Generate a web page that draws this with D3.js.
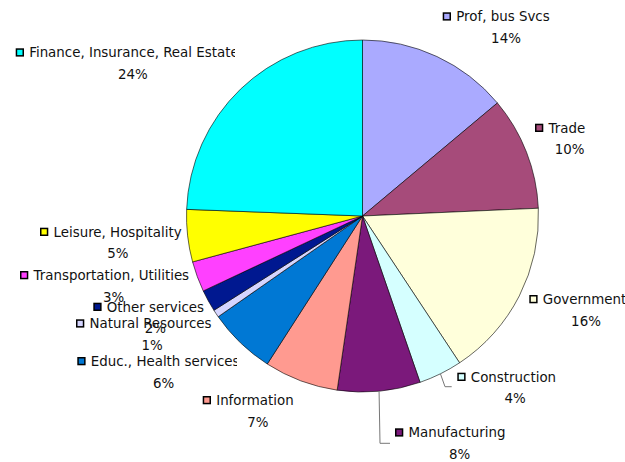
<!DOCTYPE html>
<html>
<head>
<meta charset="utf-8">
<script src="https://cdn.jsdelivr.net/npm/d3@7"></script>
<style>
  body { margin: 0; background: #fff; }
  svg { display: block; }
  text { font-family: "DejaVu Sans", sans-serif; font-size: 13.4px; fill: #111; }
</style>
</head>
<body>
<svg width="625" height="462"></svg>
<script>
// sectors, clockwise from 12 o'clock
const sectors = [
  "Prof, bus Svcs", "Trade", "Government", "Construction", "Manufacturing",
  "Information", "Educ., Health services", "Natural Resources", "Other services",
  "Transportation, Utilities", "Leisure, Hospitality", "Finance, Insurance, Real Estate"
];
// share of total (percent)
const shares = [13.9, 10.4, 16.4, 4.0, 7.6, 6.8, 6.2, 0.7, 2.0, 2.8, 4.8, 24.4];
const colours = [
  "#aaaaff", "#a64b7a", "#ffffdb", "#d5ffff", "#7b197b", "#ff9a90",
  "#0078d4", "#d5d5ff", "#001890", "#ff40ff", "#ffff00", "#00ffff"
];

// label layout: key square left, name baseline, percent centre x, optional clip edge
const labelLayout = [
  { x: 442.7, y: 21.3, px: 506 },
  { x: 535, y: 132.7, px: 569.7 },
  { x: 529.3, y: 304, px: 586 },
  { x: 457.3, y: 381.7, px: 515, leader: [[445, 386.7], [451.7, 386.7]] },
  { x: 395, y: 437.3, px: 459.5, leader: [[380, 443.3], [390, 443.3]] },
  { x: 202.7, y: 405, px: 257.8 },
  { x: 77.3, y: 366, px: 163.7, clip: 237 },
  { x: 76, y: 328.3, px: 152 },
  { x: 93.3, y: 311.7, px: 155.3 },
  { x: 20, y: 280, px: 113.7 },
  { x: 40, y: 236.7, px: 117.8 },
  { x: 15.7, y: 57.3, px: 132.8, clip: 235 }
];

const svg = d3.select("svg");
const cx = 362.5, cy = 216, radius = 176;

const data = sectors.map((name, i) => ({ name: name, value: shares[i], colour: colours[i], lay: labelLayout[i] }));
const total = d3.sum(shares);
const pctFormat = d3.format(".0%");

const pie = d3.pie().sort(null).value((d) => d.value);
const arcs = pie(data);
const arcGen = d3.arc().innerRadius(0).outerRadius(radius);
const edgeArc = d3.arc().innerRadius(radius).outerRadius(radius);

const pieGroup = svg.append("g").attr("transform", `translate(${cx},${cy})`);
pieGroup
  .selectAll("path")
  .data(arcs)
  .enter()
  .append("path")
  .attr("d", arcGen)
  .attr("fill", (d) => d.data.colour)
  .attr("stroke", "#000")
  .attr("stroke-width", 0.6)
  .attr("stroke-linejoin", "round");

// leader lines
const leaderLine = d3.line();
svg
  .selectAll("path.leader")
  .data(arcs.filter((d) => d.data.lay.leader))
  .enter()
  .append("path")
  .attr("class", "leader")
  .attr("d", (d) => {
    const p = edgeArc.centroid(d);
    return leaderLine([[cx + p[0], cy + p[1]]].concat(d.data.lay.leader));
  })
  .attr("fill", "none")
  .attr("stroke", "#777")
  .attr("stroke-width", 1);

// clip paths for labels Excel cut off
const defs = svg.append("defs");
data.forEach((d, i) => {
  if (d.lay.clip) {
    defs.append("clipPath").attr("id", "clip" + i)
      .append("rect").attr("x", 0).attr("y", d.lay.y - 16).attr("width", d.lay.clip).attr("height", 22);
  }
});

const labels = svg
  .selectAll("g.label")
  .data(data)
  .enter()
  .append("g")
  .attr("class", "label");

labels
  .append("rect")
  .attr("x", (d) => d.lay.x + 0.75)
  .attr("y", (d) => d.lay.y - 8.25)
  .attr("width", 6.8)
  .attr("height", 6.8)
  .attr("fill", (d) => d.colour)
  .attr("stroke", "#000")
  .attr("stroke-width", 1.5);

labels
  .append("text")
  .attr("x", (d) => d.lay.x + 13.5)
  .attr("y", (d) => d.lay.y)
  .attr("clip-path", (d, i) => (d.lay.clip ? `url(#clip${i})` : null))
  .text((d) => d.name);

labels
  .append("text")
  .attr("x", (d) => d.lay.px)
  .attr("y", (d) => d.lay.y + 21.5)
  .attr("text-anchor", "middle")
  .text((d) => pctFormat(d.value / total));
</script>
</body>
</html>
